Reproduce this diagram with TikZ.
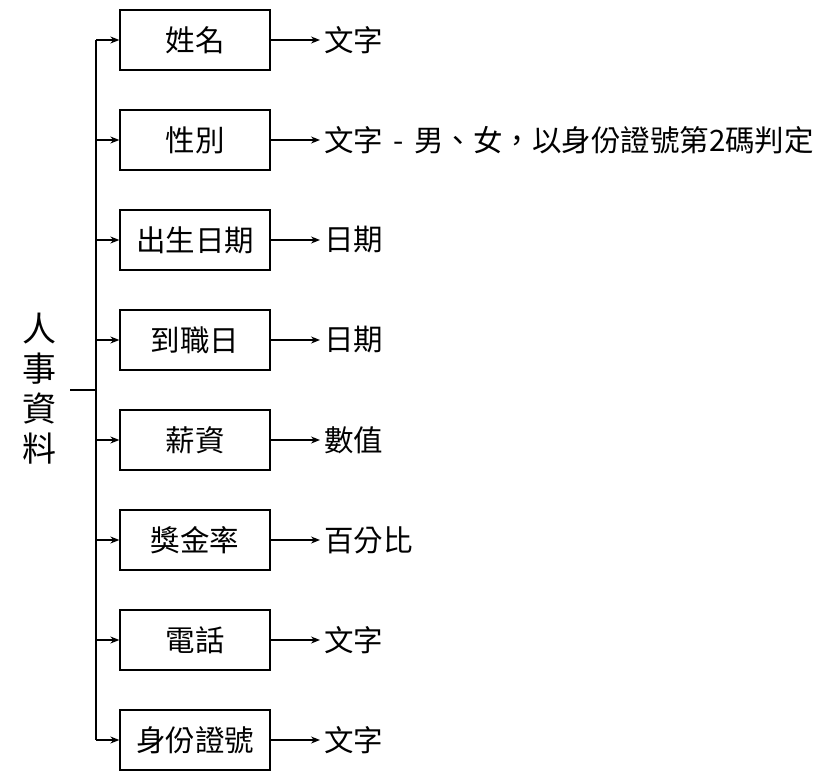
\documentclass[tikz,border=0pt]{standalone}
\usepackage{fontspec}
\setmainfont{Noto Sans CJK TC}
\usetikzlibrary{arrows.meta}

\begin{document}
\begin{tikzpicture}[x=1pt, y=-1pt]
    \tikzset{%
      box/.style={draw, line width=1.3pt, minimum width=150pt, minimum
        height=60pt, inner sep=0pt, font=\fontsize{29.5}{34}\selectfont},
      val/.style={anchor=west, inner sep=4pt,
        font=\fontsize{29.5}{34}\selectfont},
      root/.style={align=center, inner sep=0pt, minimum width=60pt,
        font=\fontsize{34}{40}\selectfont},
      link/.style={line width=1.3pt, -{Stealth[length=9pt, width=7pt]}},
      trunk/.style={line width=1.3pt},
    }
    \useasboundingbox (0,0) rectangle (840,781);
    % root label
    \node[root] (R) at (40,389) {人\\事\\資\\料};
    \coordinate (R0) at (96,390);
    \draw [trunk] (R.east |- R0) -- (R0);

    \coordinate (A0) at (96,40);
    \node[box] (A) at (195,40) {姓名};
    \node[val] (A1) at (320,40) {文字};
    \draw [link] (A0) -- (A);
    \draw [link] (A) -- (A1);

    \coordinate (B0) at (96,140);
    \node[box] (B) at (195,140) {性別};
    \node[val] (B1) at (320,140) {文字\hspace{0.35em}-\hspace{0.35em}男、女，以身份證號第2碼判定};
    \draw [link] (B0) -- (B);
    \draw [link] (B) -- (B1);

    \coordinate (C0) at (96,240);
    \node[box] (C) at (195,240) {出生日期};
    \node[val] (C1) at (320,240) {日期};
    \draw [link] (C0) -- (C);
    \draw [link] (C) -- (C1);

    \coordinate (D0) at (96,340);
    \node[box] (D) at (195,340) {到職日};
    \node[val] (D1) at (320,340) {日期};
    \draw [link] (D0) -- (D);
    \draw [link] (D) -- (D1);

    \coordinate (E0) at (96,440);
    \node[box] (E) at (195,440) {薪資};
    \node[val] (E1) at (320,440) {數值};
    \draw [link] (E0) -- (E);
    \draw [link] (E) -- (E1);

    \coordinate (F0) at (96,540);
    \node[box] (F) at (195,540) {獎金率};
    \node[val] (F1) at (320,540) {百分比};
    \draw [link] (F0) -- (F);
    \draw [link] (F) -- (F1);

    \coordinate (G0) at (96,640);
    \node[box] (G) at (195,640) {電話};
    \node[val] (G1) at (320,640) {文字};
    \draw [link] (G0) -- (G);
    \draw [link] (G) -- (G1);

    \coordinate (H0) at (96,740);
    \node[box] (H) at (195,740) {身份證號};
    \node[val] (H1) at (320,740) {文字};
    \draw [link] (H0) -- (H);
    \draw [link] (H) -- (H1);

    % vertical line
    \draw [trunk] (A0) -- (H0);
\end{tikzpicture}
\end{document}
